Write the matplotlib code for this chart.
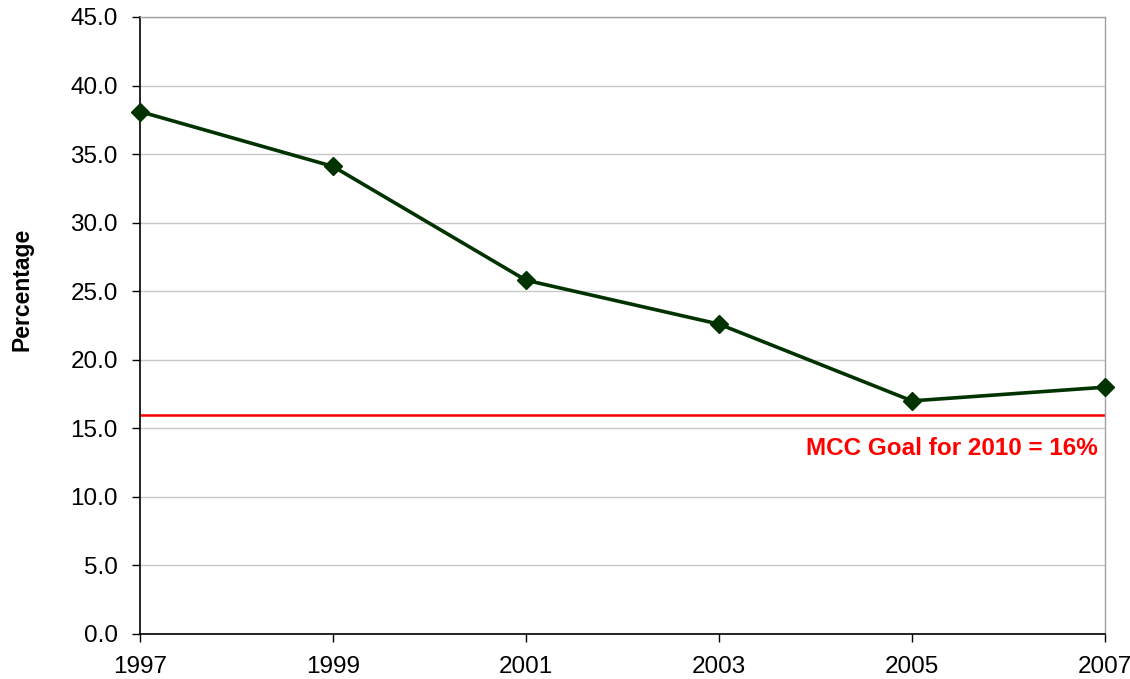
import matplotlib
matplotlib.use("Agg")
import matplotlib.pyplot as plt

years = [1997, 1999, 2001, 2003, 2005, 2007]
percentages = [38.1, 34.1, 25.8, 22.6, 17.0, 18.0]
goal_value = 16.0
goal_label = "MCC Goal for 2010 = 16%"
y_ticks = [0, 5, 10, 15, 20, 25, 30, 35, 40, 45]

plt.rcParams['font.family'] = ['Liberation Sans', 'DejaVu Sans']

fig = plt.figure(figsize=(11.3, 6.79), dpi=100)
ax = fig.add_axes([0.1239, 0.0663, 0.9779 - 0.1239, 0.975 - 0.0663])

ax.set_xlim(years[0], years[-1])
ax.set_ylim(0, 45)
ax.set_yticks(y_ticks)
ax.set_yticklabels([f"{v:.1f}" for v in y_ticks])
ax.set_xticks(years)
ax.set_xticklabels([str(y) for y in years])

ax.grid(axis='y', color='#c8c8c8', linewidth=1.0)
ax.set_axisbelow(True)

for s in ['top', 'right']:
    ax.spines[s].set_color('#a0a0a0')
    ax.spines[s].set_linewidth(1.0)
for s in ['left', 'bottom']:
    ax.spines[s].set_color('black')
    ax.spines[s].set_linewidth(1.2)

ax.tick_params(axis='both', direction='out', length=6, width=1.0, labelsize=17.5, colors='black')
ax.tick_params(axis='x', pad=10)
ax.tick_params(axis='y', pad=10)

ax.axhline(goal_value, color='#ff0000', linewidth=1.8, zorder=2)
ax.plot(years, percentages, color='#003300', linewidth=2.6, marker='D', markersize=9.5,
        markerfacecolor='#003300', markeredgecolor='#003300', zorder=3, clip_on=False)

ax.text(0.9925, (goal_value - 2.5) / 45, goal_label, transform=ax.transAxes, color='#ff0000',
        fontsize=17.5, fontweight='bold', ha='right', va='center')

ax.set_ylabel("Percentage", fontsize=16.5, fontweight='bold', va='center')
ax.yaxis.set_label_coords(-0.1223, 0.559)

fig.savefig("out.png", dpi=100)
